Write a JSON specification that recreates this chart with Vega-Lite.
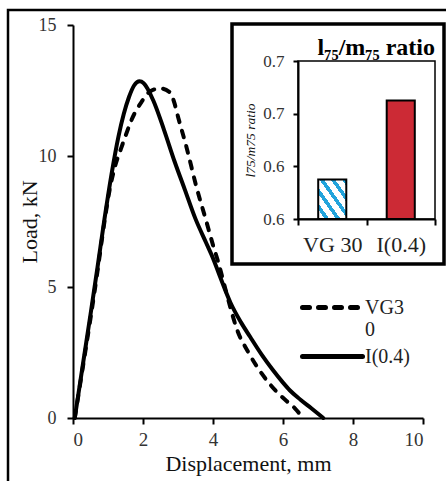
{
  "$schema": "https://vega.github.io/schema/vega-lite/v6.json",
  "width": 350,
  "height": 393,
  "autosize": "none",
  "padding": {"left": 73, "top": 25, "right": 23, "bottom": 63},
  "background": "white",
  "title": {
    "text": "l₇₅/m₇₅ ratio",
    "orient": "top",
    "anchor": "end",
    "frame": "group",
    "offset": 0,
    "dx": 12,
    "dy": 51,
    "font": "Liberation Serif",
    "fontSize": 24,
    "fontWeight": "bold",
    "color": "black"
  },
  "config": {
    "view": {"stroke": null},
    "font": "Liberation Serif",
    "axis": {
      "grid": false,
      "domainColor": "black",
      "domainWidth": 2,
      "tickColor": "black",
      "tickWidth": 2,
      "labelFont": "Liberation Serif",
      "titleFont": "Liberation Serif",
      "labelColor": "#333",
      "titleColor": "#111",
      "titleFontWeight": "normal"
    },
    "legend": {
      "orient": "none",
      "title": null,
      "symbolType": "stroke",
      "symbolSize": 3600,
      "symbolStrokeWidth": 5,
      "symbolStrokeColor": "black",
      "labelFont": "Liberation Serif",
      "labelFontSize": 20,
      "labelColor": "#222",
      "labelOffset": 0
    }
  },
  "datasets": {
    "curves": [
      {"series": "I(0.4)", "d": 0.05, "L": 0},
      {"series": "I(0.4)", "d": 0.3, "L": 2.2},
      {"series": "I(0.4)", "d": 0.5, "L": 3.95},
      {"series": "I(0.4)", "d": 0.7, "L": 5.75},
      {"series": "I(0.4)", "d": 0.9, "L": 7.6},
      {"series": "I(0.4)", "d": 1.1, "L": 9.3},
      {"series": "I(0.4)", "d": 1.3, "L": 10.75},
      {"series": "I(0.4)", "d": 1.45, "L": 11.6},
      {"series": "I(0.4)", "d": 1.6, "L": 12.25},
      {"series": "I(0.4)", "d": 1.75, "L": 12.7},
      {"series": "I(0.4)", "d": 1.9, "L": 12.85},
      {"series": "I(0.4)", "d": 2.02, "L": 12.78},
      {"series": "I(0.4)", "d": 2.3, "L": 12.1},
      {"series": "I(0.4)", "d": 2.6, "L": 11.0},
      {"series": "I(0.4)", "d": 2.9, "L": 9.8},
      {"series": "I(0.4)", "d": 3.2, "L": 8.7},
      {"series": "I(0.4)", "d": 3.5, "L": 7.6},
      {"series": "I(0.4)", "d": 3.8, "L": 6.7},
      {"series": "I(0.4)", "d": 4.0, "L": 6.1},
      {"series": "I(0.4)", "d": 4.2, "L": 5.4},
      {"series": "I(0.4)", "d": 4.5, "L": 4.4},
      {"series": "I(0.4)", "d": 4.8, "L": 3.65},
      {"series": "I(0.4)", "d": 5.06, "L": 3.1},
      {"series": "I(0.4)", "d": 5.4, "L": 2.4},
      {"series": "I(0.4)", "d": 5.7, "L": 1.85},
      {"series": "I(0.4)", "d": 6.0, "L": 1.35},
      {"series": "I(0.4)", "d": 6.2, "L": 1.05},
      {"series": "I(0.4)", "d": 6.5, "L": 0.7},
      {"series": "I(0.4)", "d": 6.8, "L": 0.38},
      {"series": "I(0.4)", "d": 7.15, "L": 0},
      {"series": "VG30", "d": 0.05, "L": 0},
      {"series": "VG30", "d": 0.3, "L": 2.1},
      {"series": "VG30", "d": 0.5, "L": 3.8},
      {"series": "VG30", "d": 0.7, "L": 5.6},
      {"series": "VG30", "d": 0.9, "L": 7.5},
      {"series": "VG30", "d": 1.06, "L": 8.8},
      {"series": "VG30", "d": 1.2, "L": 9.6},
      {"series": "VG30", "d": 1.39, "L": 10.35},
      {"series": "VG30", "d": 1.55, "L": 10.95},
      {"series": "VG30", "d": 1.68, "L": 11.4},
      {"series": "VG30", "d": 1.96, "L": 12.07},
      {"series": "VG30", "d": 2.2, "L": 12.46},
      {"series": "VG30", "d": 2.49, "L": 12.58},
      {"series": "VG30", "d": 2.75, "L": 12.45},
      {"series": "VG30", "d": 2.88, "L": 12.1},
      {"series": "VG30", "d": 3.0, "L": 11.5},
      {"series": "VG30", "d": 3.25, "L": 10.3},
      {"series": "VG30", "d": 3.53, "L": 8.8},
      {"series": "VG30", "d": 3.8, "L": 7.55},
      {"series": "VG30", "d": 4.0, "L": 6.6},
      {"series": "VG30", "d": 4.15, "L": 5.95},
      {"series": "VG30", "d": 4.3, "L": 5.2},
      {"series": "VG30", "d": 4.49, "L": 4.25},
      {"series": "VG30", "d": 4.68, "L": 3.4},
      {"series": "VG30", "d": 5.0, "L": 2.53},
      {"series": "VG30", "d": 5.39, "L": 1.7},
      {"series": "VG30", "d": 5.82, "L": 1.0},
      {"series": "VG30", "d": 6.1, "L": 0.65},
      {"series": "VG30", "d": 6.34, "L": 0.37},
      {"series": "VG30", "d": 6.5, "L": 0.12}
    ],
    "ratio": [
      {"sample": "VG 30", "ratio": 0.63},
      {"sample": "I(0.4)", "ratio": 0.69}
    ]
  },
  "layer": [
    {
      "layer": [
        {
          "data": {"values": [{}]},
          "mark": {"type": "rect", "fill": null, "stroke": "black", "strokeWidth": 2.5},
          "encoding": {
            "x": {"datum": -1.857, "type": "quantitative"},
            "x2": {"datum": 11},
            "y": {"datum": 15.57, "type": "quantitative"},
            "y2": {"datum": -3}
          }
        },
        {
          "data": {"name": "curves"},
          "transform": [{"filter": "datum.series === 'VG30'"}],
          "mark": {"type": "line", "color": "black", "strokeWidth": 4, "strokeCap": "round", "strokeJoin": "round", "interpolate": "monotone"},
          "encoding": {
            "x": {
              "field": "d", "type": "quantitative",
              "scale": {"domain": [0, 10], "nice": false, "zero": false},
              "axis": {
                "values": [0, 2, 4, 6, 8, 10],
                "tickSize": 6,
                "labelFontSize": 19,
                "labelPadding": 6,
                "title": "Displacement, mm",
                "titleFontSize": 22,
                "titlePadding": 4
              }
            },
            "y": {
              "field": "L", "type": "quantitative",
              "scale": {"domain": [0, 15], "nice": false, "zero": false},
              "axis": {
                "values": [0, 5, 10, 15],
                "tickSize": 6,
                "labelFontSize": 18,
                "labelPadding": 11,
                "title": "Load, kN",
                "titleFontSize": 22,
                "titlePadding": -3
              }
            },
            "strokeDash": {
              "field": "series", "type": "nominal",
              "scale": {"domain": ["VG30"], "range": [[7, 9]]},
              "legend": {
                "legendX": 227,
                "legendY": 250,
                "labelExpr": "['VG3', '0']",
                "encode": {
                  "symbols": {
                    "update": {
                      "strokeDash": {"value": [14, 9]},
                      "strokeCap": {"value": "round"}
                    }
                  }
                }
              }
            }
          }
        },
        {
          "data": {"name": "curves"},
          "transform": [{"filter": "datum.series === 'I(0.4)'"}],
          "mark": {"type": "line", "strokeWidth": 4, "strokeCap": "round", "strokeJoin": "round", "interpolate": "monotone"},
          "encoding": {
            "x": {"field": "d", "type": "quantitative"},
            "y": {"field": "L", "type": "quantitative"},
            "color": {
              "field": "series", "type": "nominal",
              "scale": {"domain": ["I(0.4)"], "range": ["black"]},
              "legend": {
                "legendX": 227,
                "legendY": 299,
                "encode": {
                  "symbols": {
                    "update": {
                      "strokeCap": {"value": "round"}
                    }
                  }
                }
              }
            }
          }
        },
        {
          "data": {"values": [{}]},
          "mark": {"type": "rect", "fill": "white", "stroke": "black", "strokeWidth": 3.5},
          "encoding": {
            "x": {"datum": 4.543, "type": "quantitative"},
            "x2": {"datum": 10.6},
            "y": {"datum": 15.04, "type": "quantitative"},
            "y2": {"datum": 5.878}
          }
        },
        {
          "data": {"values": [{}]},
          "mark": {"type": "rect", "fill": null, "stroke": "black", "strokeWidth": 1.5},
          "encoding": {
            "x": {"datum": 6.4286, "type": "quantitative"},
            "x2": {"datum": 10.343},
            "y": {"datum": 13.626, "type": "quantitative"},
            "y2": {"datum": 7.595}
          }
        }
      ]
    },
    {
      "data": {"name": "ratio"},
      "mark": {"type": "bar", "stroke": "black", "strokeWidth": 2, "width": {"band": 0.41}},
      "encoding": {
        "x": {
          "field": "sample", "type": "nominal", "sort": null,
          "scale": {"domain": ["VG 30", "I(0.4)"], "range": [225, 362], "paddingInner": 0, "paddingOuter": 0},
          "axis": {
            "orient": "bottom",
            "offset": -199,
            "zindex": 2,
            "title": null,
            "labelAngle": 0,
            "labelFontSize": 22,
            "labelColor": "#222",
            "tickBand": "extent",
            "tickSize": 6,
            "labelPadding": 9
          }
        },
        "y": {
          "field": "ratio", "type": "quantitative",
          "scale": {"domain": [0.6, 0.72], "range": [194, 36], "zero": false, "nice": false},
          "axis": {
            "orient": "left",
            "offset": -225,
            "zindex": 2,
            "values": [0.6, 0.64, 0.68, 0.72],
            "format": ".1f",
            "labelFontSize": 17,
            "tickSize": 5,
            "labelPadding": 9,
            "title": "l75/m75 ratio",
            "titleFontSize": 13.5,
            "titleFontStyle": "italic",
            "titlePadding": 5
          }
        },
        "y2": {"datum": 0.6},
        "fill": {
          "condition": {
            "test": "datum.sample === 'VG 30'",
            "value": {
              "gradient": "linear",
              "x1": 0, "y1": 1, "x2": 1, "y2": 0,
              "stops": [
                {"offset": 0, "color": "white"},
                {"offset": 0.12, "color": "white"},
                {"offset": 0.12, "color": "#22a4dc"},
                {"offset": 0.2, "color": "#22a4dc"},
                {"offset": 0.2, "color": "white"},
                {"offset": 0.32, "color": "white"},
                {"offset": 0.32, "color": "#22a4dc"},
                {"offset": 0.4, "color": "#22a4dc"},
                {"offset": 0.4, "color": "white"},
                {"offset": 0.52, "color": "white"},
                {"offset": 0.52, "color": "#22a4dc"},
                {"offset": 0.6, "color": "#22a4dc"},
                {"offset": 0.6, "color": "white"},
                {"offset": 0.72, "color": "white"},
                {"offset": 0.72, "color": "#22a4dc"},
                {"offset": 0.8, "color": "#22a4dc"},
                {"offset": 0.8, "color": "white"},
                {"offset": 0.92, "color": "white"},
                {"offset": 0.92, "color": "#22a4dc"},
                {"offset": 1, "color": "#22a4dc"}
              ]
            }
          },
          "value": "#cc2a35"
        }
      }
    }
  ],
  "resolve": {
    "scale": {"x": "independent", "y": "independent"},
    "axis": {"x": "independent", "y": "independent"}
  }
}
